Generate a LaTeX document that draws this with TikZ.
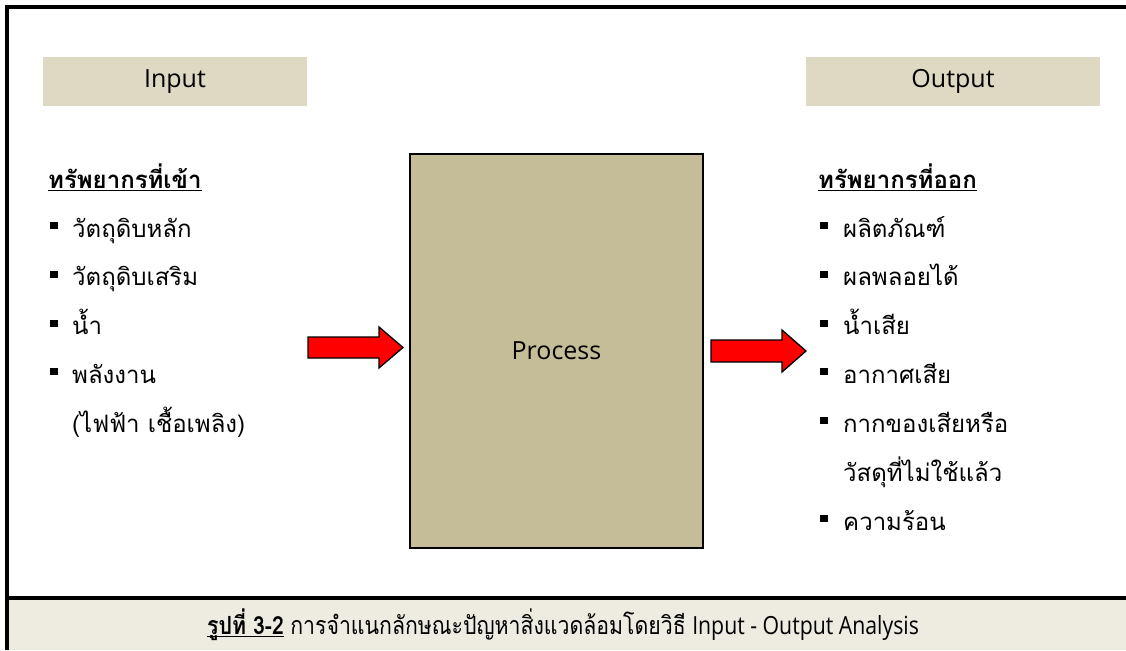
\documentclass[tikz,border=0pt]{standalone}
\usepackage{fontspec}
\setmainfont{Open Sans}
\newfontfamily\thai[Script=Thai]{Loma}
\newfontfamily\thaicond[Script=Thai,FakeStretch=0.85]{Loma}
\newfontfamily\latcond[FakeStretch=0.85]{Open Sans}
\definecolor{capfill}{HTML}{EEECE1}
\definecolor{hdrfill}{HTML}{DDD9C3}
\definecolor{procfill}{HTML}{C4BD97}
\definecolor{arrred}{HTML}{FF0000}
\newcommand\myul[1]{\setbox0\hbox{#1}\rlap{\rule[-3pt]{\wd0}{1.3pt}}\box0\relax}
\tikzset{
  hdr/.style={fill=hdrfill, inner sep=0pt, font=\fontsize{25}{28}\selectfont},
  proc/.style={fill=procfill, draw=black, line width=2.5pt, inner sep=0pt, font=\fontsize{25}{28}\selectfont},
  item/.style={anchor=base west, inner sep=0pt, font=\thai\fontsize{24}{28}\selectfont},
  head/.style={anchor=base west, inner sep=0pt, font=\thai\bfseries\fontsize{24}{28}\selectfont},
  blockarrow/.style={fill=arrred, draw=black, line width=1.3pt, line join=miter},
  bul/.style={fill=black}
}
\begin{document}
\begin{tikzpicture}[x=1pt,y=-1pt]
\useasboundingbox (0,0) rectangle (1126,650);
% caption band and frame
\fill[capfill] (7,598) rectangle (1126,650);
\draw[line width=3.3pt] (7,650) -- (7,7) -- (1126,7);
\draw[line width=3.3pt] (7,598) -- (1126,598);
% header boxes
\node[hdr, minimum width=264pt, minimum height=49pt] (inbox) at (175,81.5) {Input};
\node[hdr, minimum width=294pt, minimum height=49pt] (outbox) at (953,81.5) {Output};
% process
\node[proc, minimum width=293pt, minimum height=394pt] (proc) at (556.5,351) {Process};
% arrows
\coordinate (la) at (308,347.5);
\draw[blockarrow] (la) ++(0,-10.5) -- ++(71,0) -- ++(0,-10) -- ++(24,20.5) -- ++(-24,20.5) -- ++(0,-10) -- ++(-71,0) -- cycle;
\coordinate (ra) at (711,351);
\draw[blockarrow] (ra) ++(0,-11) -- ++(71,0) -- ++(0,-10) -- ++(24,21) -- ++(-24,21) -- ++(0,-10) -- ++(-71,0) -- cycle;
% left list
\node[head] (lh) at (48,188) {\myul{ทรัพยากรที่เข้า}};
\foreach \t [count=\i] in {วัตถุดิบหลัก,วัตถุดิบเสริม,น้ำ,พลังงาน}{
  \node[item] (l\i) at (72,{237+48.75*(\i-1)}) {\t};
  \fill[bul] (50,{237+48.75*(\i-1)-15}) rectangle ++(8,7);
}
\node[item] (l5) at (72,432) {(ไฟฟ้า เชื้อเพลิง)};
% right list
\node[head] (rh) at (818,188) {\myul{ทรัพยากรที่ออก}};
\foreach \t [count=\i] in {ผลิตภัณฑ์,ผลพลอยได้,น้ำเสีย,อากาศเสีย,กากของเสียหรือ}{
  \node[item] (r\i) at (843,{237+48.75*(\i-1)}) {\t};
  \fill[bul] (820,{237+48.75*(\i-1)-15}) rectangle ++(8,7);
}
\node[item] (r6) at (843,481) {วัสดุที่ไม่ใช้แล้ว};
\node[item] (r7) at (843,530) {ความร้อน};
\fill[bul] (820,515) rectangle ++(8,7);
% caption
\node[anchor=base, inner sep=0pt, font=\fontsize{25}{28}\selectfont] (cap) at (563,634)
  {\myul{\thaicond\bfseries รูปที่ 3-2} {\thaicond การจำแนกลักษณะปัญหาสิ่งแวดล้อมโดยวิธี} {\latcond Input - Output Analysis}};
\end{tikzpicture}
\end{document}
